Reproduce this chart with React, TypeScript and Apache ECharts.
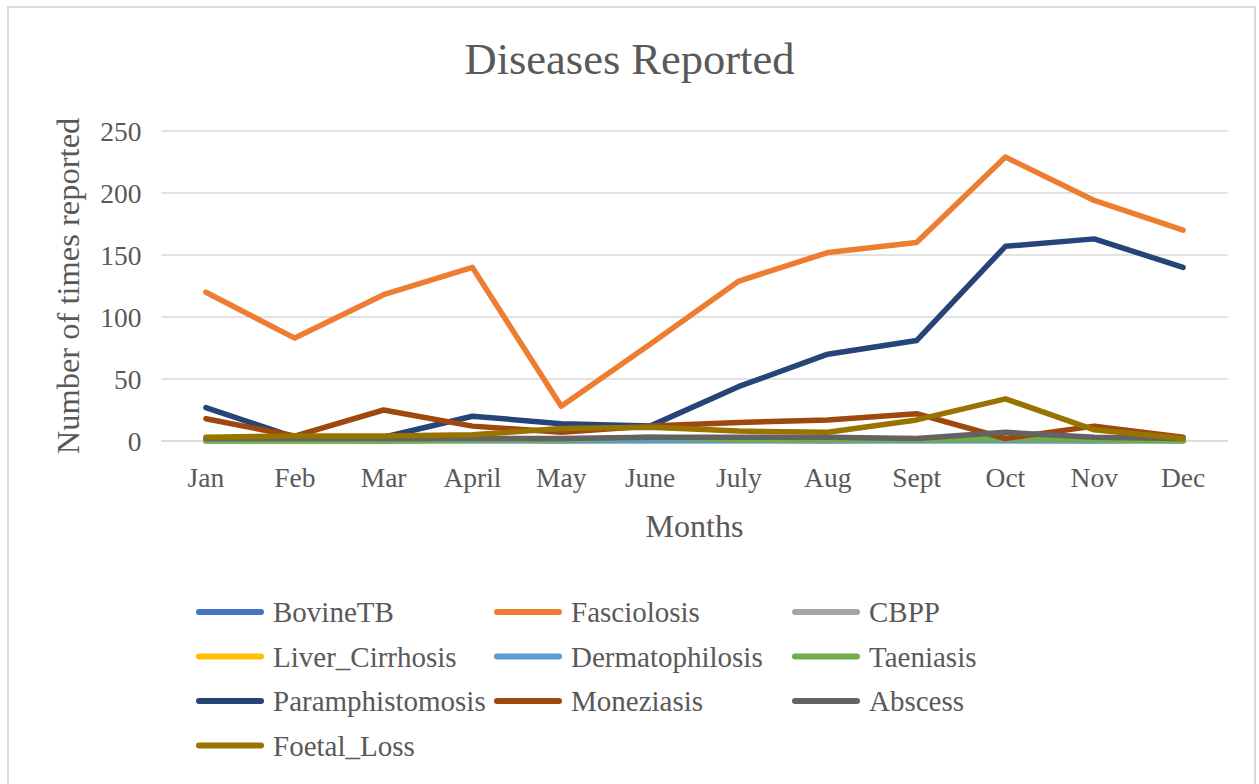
import React, { useEffect, useRef } from "react";
import * as echarts from "echarts";

const months = ["Jan", "Feb", "Mar", "April", "May", "June", "July", "Aug", "Sept", "Oct", "Nov", "Dec"];
const yTicks = { min: 0, max: 250, interval: 50 };

const seriesNames = [
  "BovineTB", "Fasciolosis", "CBPP", "Liver_Cirrhosis", "Dermatophilosis",
  "Taeniasis", "Paramphistomosis", "Moneziasis", "Abscess", "Foetal_Loss",
];
const seriesColors = [
  "#4472C4", "#ED7D31", "#A5A5A5", "#FFC000", "#5B9BD5",
  "#70AD47", "#264478", "#9E480E", "#636363", "#997300",
];

const bovineTB = [1, 1, 0, 1, 0, 1, 1, 0, 1, 1, 0, 1];
const fasciolosis = [120, 83, 118, 140, 28, 78, 129, 152, 160, 229, 194, 170];
const cbpp = [1, 1, 1, 1, 1, 1, 1, 1, 1, 2, 1, 1];
const liverCirrhosis = [0, 0, 0, 0, 0, 0, 0, 0, 0, 0, 0, 0];
const dermatophilosis = [0, 0, 0, 0, 0, 0, 0, 0, 0, 0, 0, 0];
const taeniasis = [0, 0, 0, 1, 1, 3, 1, 1, 1, 2, 1, 0];
const paramphistomosis = [27, 3, 3, 20, 14, 12, 44, 70, 81, 157, 163, 140];
const moneziasis = [18, 4, 25, 12, 7, 12, 15, 17, 22, 2, 12, 3];
const abscess = [2, 2, 2, 2, 2, 3, 3, 3, 2, 7, 3, 2];
const foetalLoss = [3, 4, 4, 5, 10, 11, 8, 7, 17, 34, 9, 2];

const seriesData = [
  bovineTB, fasciolosis, cbpp, liverCirrhosis, dermatophilosis,
  taeniasis, paramphistomosis, moneziasis, abscess, foetalLoss,
];

const legendColumns = [
  ["BovineTB", "Liver_Cirrhosis", "Paramphistomosis", "Foetal_Loss"],
  ["Fasciolosis", "Dermatophilosis", "Moneziasis"],
  ["CBPP", "Taeniasis", "Abscess"],
];
const legendLefts = [196, 494, 792];

const FONT = "'Liberation Serif', 'Times New Roman', serif";
const TEXT = "#595959";

export default function App() {
  const ref = useRef<HTMLDivElement>(null);

  useEffect(() => {
    if (!ref.current) return;
    const chart = echarts.init(ref.current, undefined, { renderer: "svg" });
    const pill = "path://M3,0 L65,0 A3,3 0 0 1 65,6 L3,6 A3,3 0 0 1 3,0 Z";
    chart.setOption({
      animation: false,
      backgroundColor: "#ffffff",
      title: {
        text: "Diseases Reported",
        left: "center",
        top: 31,
        padding: [5, 5, 5, 16],
        textStyle: { fontFamily: FONT, fontSize: 44.5, fontWeight: "normal", color: TEXT },
      },
      graphic: [
        {
          type: "rect",
          shape: { x: 8, y: 7, width: 1247, height: 800 },
          style: { fill: "none", stroke: "#d9d9d9", lineWidth: 2 },
          silent: true,
        },
      ],
      legend: legendColumns.map((col, i) => ({
        data: col,
        orient: "vertical",
        left: legendLefts[i],
        top: 597,
        padding: 0,
        itemWidth: 68,
        itemHeight: 6,
        itemGap: 14.5,
        icon: pill,
        textStyle: {
          fontFamily: FONT,
          fontSize: 29,
          color: TEXT,
          lineHeight: 30,
          padding: [0, 0, 0, 4],
        },
      })),
      grid: { left: 161.5, right: 31.5, top: 131, bottom: 343, containLabel: false },
      xAxis: {
        type: "category",
        data: months,
        boundaryGap: true,
        name: "Months",
        nameLocation: "middle",
        nameGap: 69,
        nameTextStyle: { fontFamily: FONT, fontSize: 32, color: TEXT },
        axisLine: { show: true, lineStyle: { color: "#d9d9d9", width: 1.5 } },
        axisTick: { show: false },
        axisLabel: { fontFamily: FONT, fontSize: 27.5, color: TEXT, margin: 22 },
      },
      yAxis: {
        type: "value",
        min: yTicks.min,
        max: yTicks.max,
        interval: yTicks.interval,
        name: "Number of times reported",
        nameLocation: "middle",
        nameGap: 77,
        nameTextStyle: { fontFamily: FONT, fontSize: 32.5, color: TEXT },
        axisLine: { show: false },
        axisTick: { show: false },
        axisLabel: { fontFamily: FONT, fontSize: 27.5, color: TEXT, margin: 20 },
        splitLine: { lineStyle: { color: "#d9d9d9", width: 1.5 } },
      },
      series: seriesNames.map((name, i) => ({
        name,
        type: "line",
        data: seriesData[i],
        showSymbol: false,
        symbol: "none",
        color: seriesColors[i],
        lineStyle: { color: seriesColors[i], width: 5.5, cap: "round", join: "round" },
        z: 2 + i,
      })),
    });
    return () => chart.dispose();
  }, []);

  return (
    <div
      ref={ref}
      style={{ position: "absolute", left: 0, top: 0, width: 1259, height: 784 }}
    />
  );
}
